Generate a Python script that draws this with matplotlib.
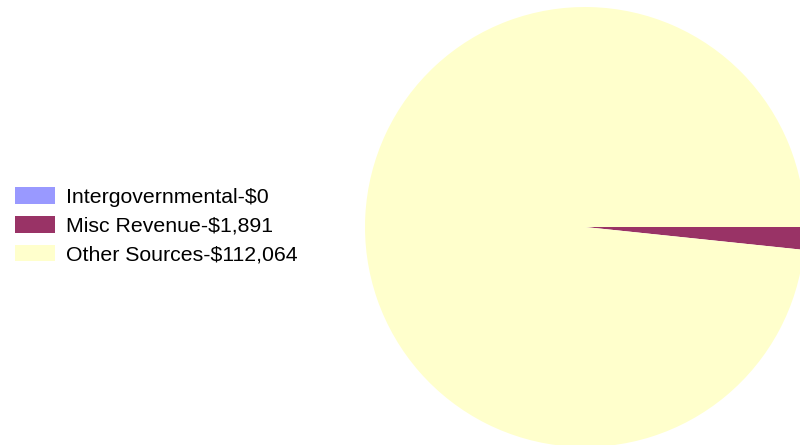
import matplotlib
matplotlib.use("Agg")
from matplotlib import pyplot as plt

# revenue sources
labels = ["Intergovernmental-$0", "Misc Revenue-$1,891", "Other Sources-$112,064"]
values = [0, 1891, 112064]
colors = ["#9999FF", "#993366", "#FFFFCC"]

plt.rcParams['font.family'] = ['Liberation Sans', 'DejaVu Sans']

fig = plt.figure(figsize=(8, 4.45), dpi=100)
# pie axes, centred near (585, 227) px with radius ~220 px, clipped at right edge
ax = fig.add_axes([365 / 800, (445 - 447) / 445, 440 / 800, 440 / 445])
wedges, _ = ax.pie(values, colors=colors, startangle=0, counterclock=False,
                   radius=1.0, wedgeprops=dict(linewidth=0))
ax.set_xlim(-1, 1)
ax.set_ylim(-1, 1)
ax.set_aspect('equal')
ax.axis('off')

fig.legend(wedges, labels, loc='center left', bbox_to_anchor=(15 / 800, 1 - 226 / 445),
           frameon=False, fontsize=15.3, borderpad=0, borderaxespad=0,
           handlelength=1.9, handleheight=0.8, handletextpad=0.52, labelspacing=0.44)

fig.savefig("out.png", dpi=100)
